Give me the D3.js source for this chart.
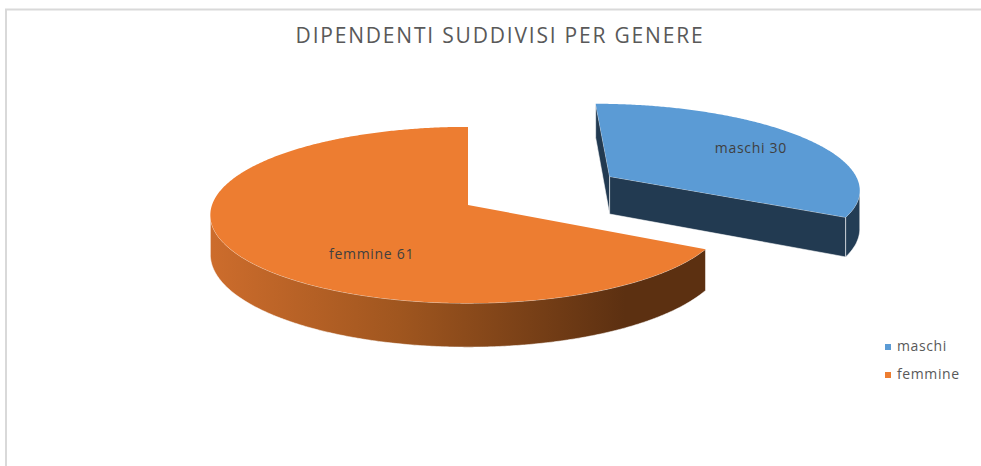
<!DOCTYPE html>
<html>
<head>
<meta charset="utf-8">
<script src="https://cdn.jsdelivr.net/npm/d3@7"></script>
<style>
body { margin: 0; background: #fff; }
text { font-family: "Open Sans", "DejaVu Sans", sans-serif; }
</style>
</head>
<body>
<div id="chart"></div>
<script>
// dati del grafico
var categories = ["maschi", "femmine"];
var values = [30, 61];
var colors = ["#5b9bd5", "#ed7d31"];
var explode = [0.668, 0];
var title = "DIPENDENTI SUDDIVISI PER GENERE";

var width = 981, height = 466;

// geometria della torta 3D (prospettiva semplice)
var cx = 468, cy = 205, rx = 256, ry = 87, persp = 0.1136, depth = 39;

var svg = d3.select("#chart").append("svg")
    .attr("width", width)
    .attr("height", height);

// bordo del grafico (solo sinistra e sopra si vedono)
svg.append("path")
    .attr("d", "M6,466 V9.5 H981")
    .attr("fill", "none")
    .attr("stroke", "#d9d9d9")
    .attr("stroke-width", 2);

svg.append("text")
    .attr("x", 500)
    .attr("y", 43)
    .attr("text-anchor", "middle")
    .style("font-size", "21px")
    .style("letter-spacing", "1.8px")
    .style("fill", "#595959")
    .text(title);

// scale per passare da coordinate del disco unitario a pixel
var x = d3.scaleLinear().domain([-1, 1]).range([cx - rx, cx + rx]);
var y = d3.scaleLinear().domain([-1, 1]).range([cy + ry, cy - ry]);

function proj(X, Z, h) {
    var p = 1 / (1 + persp * Z);
    return [x(X * p), y(Z * p) + h * p];
}

var camZ = -1 / persp;

var pie = d3.pie().sort(null).value(function (d) { return d.value; });
var slices = pie(categories.map(function (c, i) {
    return { name: c, value: values[i], color: colors[i], explode: explode[i] };
}));

var defs = svg.append("defs");
var grad = defs.append("linearGradient")
    .attr("id", "sideFemmine")
    .attr("gradientUnits", "userSpaceOnUse")
    .attr("x1", 213).attr("x2", 625).attr("y1", 0).attr("y2", 0);
grad.append("stop").attr("offset", 0).attr("stop-color", "#cc6c2c");
grad.append("stop").attr("offset", 0.45).attr("stop-color", "#a0561f");
grad.append("stop").attr("offset", 1).attr("stop-color", "#5c3011");

var sideFill = ["#233d55", "url(#sideFemmine)"];
var cutFill = ["#223a51", "#8a4a1b"];

var line = d3.line();
var step = Math.PI / 360;

slices.forEach(function (d, i) {
    var mid = (d.startAngle + d.endAngle) / 2;
    var ox = d.data.explode * Math.sin(mid);
    var oz = d.data.explode * Math.cos(mid);
    var g = svg.append("g").attr("class", "slice");

    function rim(a, h) { return proj(ox + Math.sin(a), oz + Math.cos(a), h); }
    var c0 = proj(ox, oz, 0), c1 = proj(ox, oz, depth);

    // facce radiali
    [[d.startAngle, -1], [d.endAngle, 1]].forEach(function (f) {
        var a = f[0], s = f[1];
        var nx = s * Math.cos(a), nz = -s * Math.sin(a);
        var vis = nx * (0 - ox) + nz * (camZ - oz);
        if (vis > 0) {
            g.append("path")
                .attr("d", line([c0, rim(a, 0), rim(a, depth), c1]) + "Z")
                .attr("fill", cutFill[i])
                .attr("stroke", "#fff").attr("stroke-width", 0.8).attr("stroke-opacity", 0.7);
        }
    });

    // fianco curvo: solo la parte rivolta verso chi guarda
    var vis = [];
    for (var a = d.startAngle; a <= d.endAngle + 1e-9; a += step) {
        var X = ox + Math.sin(a), Z = oz + Math.cos(a);
        if (Math.sin(a) * (0 - X) + Math.cos(a) * (camZ - Z) > 0) vis.push(a);
    }
    if (vis.length > 1) {
        var last = vis[vis.length - 1];
        if (d.endAngle - last < step) vis[vis.length - 1] = d.endAngle;
        var top = vis.map(function (a) { return rim(a, 0); });
        var bot = vis.slice().reverse().map(function (a) { return rim(a, depth); });
        g.append("path")
            .attr("d", line(top.concat(bot)) + "Z")
            .attr("fill", sideFill[i])
            .attr("stroke", "#fff").attr("stroke-width", 0.8).attr("stroke-opacity", 0.7);
    }

    // faccia superiore
    var pts = [c0];
    for (var a2 = d.startAngle; a2 < d.endAngle; a2 += step) pts.push(rim(a2, 0));
    pts.push(rim(d.endAngle, 0));
    g.append("path")
        .attr("d", line(pts) + "Z")
        .attr("fill", d.data.color);
});

// etichette dati
var labelR = [0.72, 0.64];
var labelShift = [0, -0.45];
slices.forEach(function (d, i) {
    var mid = (d.startAngle + d.endAngle) / 2;
    var ox = d.data.explode * Math.sin(mid);
    var oz = d.data.explode * Math.cos(mid);
    var a = mid + labelShift[i];
    var pt = proj(ox + labelR[i] * Math.sin(a), oz + labelR[i] * Math.cos(a), 0);
    svg.append("text")
        .attr("x", pt[0])
        .attr("y", pt[1] + 5)
        .attr("text-anchor", "middle")
        .style("font-size", "14px")
        .style("letter-spacing", "0.7px")
        .style("fill", "#404040")
        .text(d.data.name + " " + d.data.value);
});

// legenda
var legend = svg.append("g").attr("transform", "translate(885,344)");
var item = legend.selectAll("g")
    .data(categories)
    .enter().append("g")
    .attr("transform", function (d, i) { return "translate(0," + (i * 28) + ")"; });
item.append("rect")
    .attr("width", 6).attr("height", 6)
    .attr("fill", function (d, i) { return colors[i]; });
item.append("text")
    .attr("x", 12)
    .attr("y", 7)
    .style("font-size", "14px")
    .style("letter-spacing", "0.6px")
    .style("fill", "#595959")
    .text(function (d) { return d; });
</script>
</body>
</html>
